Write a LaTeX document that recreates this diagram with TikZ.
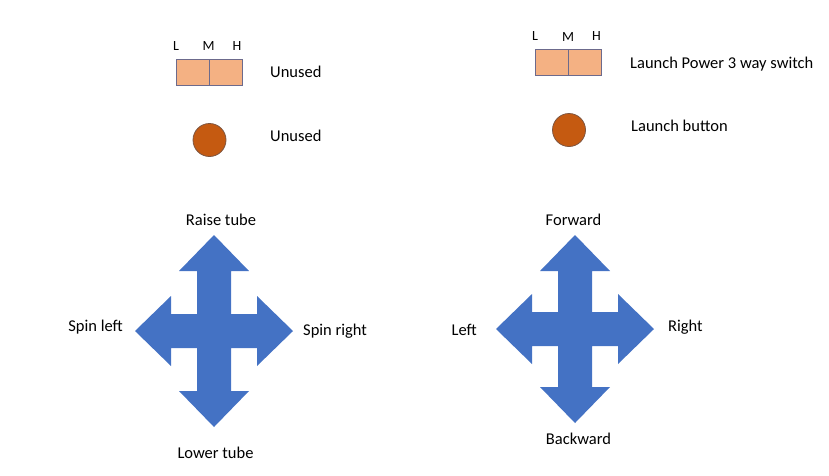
\documentclass[tikz,border=0pt]{standalone}
\usepackage{fontspec}
\setmainfont{Carlito}
\definecolor{crossblue}{HTML}{4472C4}
\definecolor{switchfill}{HTML}{F4B183}
\definecolor{buttonfill}{HTML}{C55A11}
\definecolor{switchedge}{HTML}{6C6A8C}
\definecolor{buttonedge}{HTML}{7E5540}

\begin{document}
\begin{tikzpicture}
	[x=1pt,y=-1pt,
	 lbl/.style={inner sep=0pt,text height=10pt,text depth=0pt,font=\fontsize{16.5}{19}\selectfont},
	 poslbl/.style={inner sep=0pt,text height=9pt,text depth=0pt,font=\fontsize{14}{16}\selectfont},
	 half/.style={draw=switchedge,fill=switchfill,line width=.8pt,minimum width=33pt,minimum height=26pt,inner sep=0pt},
	 button/.style={circle,draw=buttonedge,fill=buttonfill,line width=.8pt,minimum size=33pt,inner sep=0pt}]
	\useasboundingbox (0,0) rectangle (829,475);

	\node[half] (s1l) at (192.5,72.5) {};
	\node[half] (s1h) at (225.5,72.5) {};
	\node[half] (s2l) at (551.5,62) {};
	\node[half] (s2h) at (584.5,62) {};
	\node[poslbl] (l1) at (176,45.5) {L};
	\node[poslbl] (m1) at (208.5,45.5) {M};
	\node[poslbl] (h1) at (237,45.5) {H};
	\node[poslbl] (l2) at (535,35.5) {L};
	\node[poslbl] (m2) at (568,37) {M};
	\node[poslbl] (h2) at (596.5,35.5) {H};

	\node[button] (b1) at (209.5,140) {};
	\node[button] (b2) at (569,130) {};

	\node[lbl,anchor=west] (t1) at (270,72.5) {Unused};
	\node[lbl,anchor=west] (t2) at (270,136.5) {Unused};
	\node[lbl,anchor=west] (t3) at (630,63) {Launch Power 3 way switch};
	\node[lbl,anchor=west] (t4) at (631,126.5) {Launch button};

	\foreach \cx/\cy/\h in {214/331/96,575/329/94}
		\fill[crossblue,shift={(\cx,\cy)}] (0,-\h) -- (35,{-\h+36}) -- (17,{-\h+36}) -- (17,-17)
			-- (43,-17) -- (43,-35) -- (79,0) -- (43,35) -- (43,17) -- (17,17)
			-- (17,{\h-36}) -- (35,{\h-36}) -- (0,\h) -- (-35,{\h-36}) -- (-17,{\h-36}) -- (-17,17)
			-- (-43,17) -- (-43,35) -- (-79,0) -- (-43,-35) -- (-43,-17) -- (-17,-17)
			-- (-17,{-\h+36}) -- (-35,{-\h+36}) -- cycle;

	\node[lbl] (up1) at (221,220.5) {Raise tube};
	\node[lbl] (dn1) at (215.5,453.5) {Lower tube};
	\node[lbl,anchor=east] (lf1) at (123,326) {Spin left};
	\node[lbl,anchor=west] (rt1) at (303,330.5) {Spin right};
	\node[lbl] (up2) at (573.5,220.5) {Forward};
	\node[lbl] (dn2) at (578.5,439) {Backward};
	\node[lbl,anchor=east] (lf2) at (477,330.5) {Left};
	\node[lbl,anchor=west] (rt2) at (668,326.5) {Right};
\end{tikzpicture}
\end{document}
